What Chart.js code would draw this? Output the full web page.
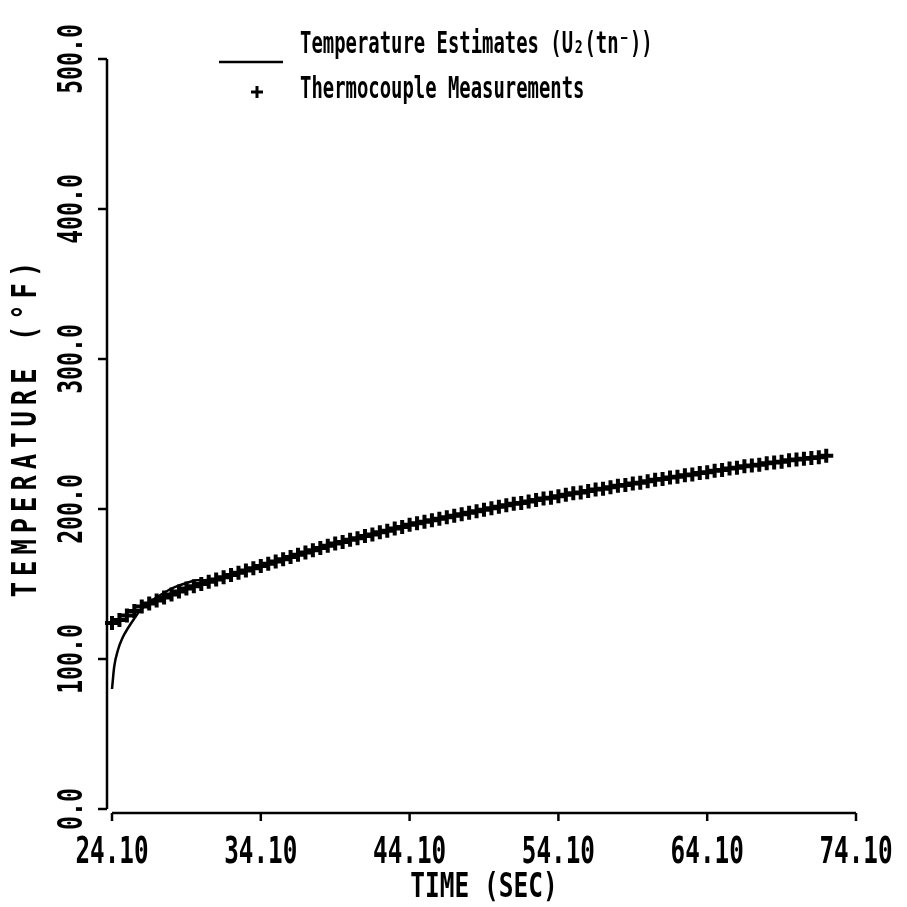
<!DOCTYPE html>
<html>
<head>
<meta charset="utf-8">
<script src="https://cdn.jsdelivr.net/npm/chart.js@4/dist/chart.umd.min.js"></script>
<style>html,body{margin:0;padding:0;background:#fff;}canvas{display:block;}</style>
</head>
<body>
<canvas id="c" width="907" height="907"></canvas>
<script>
// ---- data ----
const xTicks = [24.10, 34.10, 44.10, 54.10, 64.10, 74.10];
const xTickLabels = ["24.10", "34.10", "44.10", "54.10", "64.10", "74.10"];
const yTicks = [0, 100, 200, 300, 400, 500];
const yTickLabels = ["0.0", "100.0", "200.0", "300.0", "400.0", "500.0"];

const estimateTimes = [24.1, 24.25, 24.5, 24.8, 25.2, 25.6, 26.0, 26.5, 27.0, 27.5, 28.0, 28.6, 29.2, 29.8, 30.3, 30.8, 31.5, 32.5, 34.1, 36.1, 38.1, 40.1, 42.1, 44.1, 46.1, 48.1, 50.1, 52.1, 54.1, 56.1, 58.1, 60.1, 62.1, 64.1, 66.1, 68.1, 70.1, 72.1];
const estimateTemps = [80, 95, 106, 114, 121, 127, 132.5, 137, 140.5, 143.5, 146.5, 149, 151, 152.5, 152.5, 153, 154.5, 157.5, 162, 168, 174, 179.5, 184.5, 189.5, 193.5, 197.5, 201.5, 205, 208.5, 212, 215.5, 218.5, 221.5, 224.5, 227.5, 230.5, 233, 235.5];

const measTimes = [24.1, 24.6, 25.1, 25.6, 26.1, 26.6, 27.1, 27.6, 28.1, 28.6, 29.1, 29.6, 30.1, 30.6, 31.1, 31.6, 32.1, 32.6, 33.1, 33.6, 34.1, 34.6, 35.1, 35.6, 36.1, 36.6, 37.1, 37.6, 38.1, 38.6, 39.1, 39.6, 40.1, 40.6, 41.1, 41.6, 42.1, 42.6, 43.1, 43.6, 44.1, 44.6, 45.1, 45.6, 46.1, 46.6, 47.1, 47.6, 48.1, 48.6, 49.1, 49.6, 50.1, 50.6, 51.1, 51.6, 52.1, 52.6, 53.1, 53.6, 54.1, 54.6, 55.1, 55.6, 56.1, 56.6, 57.1, 57.6, 58.1, 58.6, 59.1, 59.6, 60.1, 60.6, 61.1, 61.6, 62.1, 62.6, 63.1, 63.6, 64.1, 64.6, 65.1, 65.6, 66.1, 66.6, 67.1, 67.6, 68.1, 68.6, 69.1, 69.6, 70.1, 70.6, 71.1, 71.6, 72.1];
const measTemps = [124, 126, 129, 132, 135, 137, 139, 141, 143, 145, 147, 148.5, 150, 151.5, 153, 154.5, 156, 157.5, 159, 160.5, 162, 163.5, 165, 166.5, 168, 169.5, 171, 172.5, 174, 175.5, 177, 178, 179.5, 180.5, 182, 183, 184.5, 185.5, 187, 188, 189.5, 190.5, 191.5, 192.5, 193.5, 194.5, 195.5, 196.5, 197.5, 198.5, 199.5, 200.5, 201.5, 202.5, 203.5, 204, 205, 206, 207, 207.5, 208.5, 209.5, 210.5, 211, 212, 213, 213.5, 214.5, 215.5, 216, 217, 217.5, 218.5, 219.5, 220, 221, 221.5, 222.5, 223, 224, 224.5, 225.5, 226, 227, 227.5, 228.5, 229, 229.5, 230.5, 231, 231.5, 232.5, 233, 233.5, 234, 234.5, 235.5];

const legendLabels = ["Temperature Estimates (U\u2082(tn\u207B))", "Thermocouple Measurements"];
const xTitle = "TIME (SEC)";
const yTitle = "TEMPERATURE (\u00B0F)";

// ---- helpers ----
const FONT = '"DejaVu Sans Mono", "Liberation Mono", monospace';
function cText(ctx, text, x, y, size, sx, align, rot, spacing) {
  ctx.save();
  ctx.translate(x, y);
  if (rot) ctx.rotate(rot);
  ctx.scale(sx, 1);
  ctx.font = 'bold ' + size + 'px ' + FONT;
  if (spacing) ctx.letterSpacing = spacing + 'px';
  ctx.textAlign = align;
  ctx.textBaseline = 'middle';
  ctx.fillStyle = '#000';
  ctx.fillText(text, 0, 0);
  ctx.restore();
}

const decor = {
  id: 'decor',
  afterDraw(chart) {
    const ctx = chart.ctx;
    const xs = chart.scales.x, ys = chart.scales.y;
    const x0 = xs.getPixelForValue(xTicks[0]);
    const x1 = xs.getPixelForValue(xTicks[xTicks.length - 1]);
    const yb = ys.getPixelForValue(yTicks[0]);
    const yt = ys.getPixelForValue(yTicks[yTicks.length - 1]);
    const axX = x0 - 5, axY = yb + 4;
    ctx.save();
    ctx.strokeStyle = '#000';
    ctx.lineWidth = 2.5;
    ctx.lineCap = 'butt';
    // y axis
    ctx.beginPath();
    ctx.moveTo(axX, yt); ctx.lineTo(axX, yb);
    ctx.stroke();
    yTicks.forEach(v => {
      const p = ys.getPixelForValue(v);
      ctx.beginPath(); ctx.moveTo(axX - 9, p); ctx.lineTo(axX, p); ctx.stroke();
    });
    // x axis
    ctx.beginPath();
    ctx.moveTo(x0, axY); ctx.lineTo(x1, axY);
    ctx.stroke();
    xTicks.forEach(v => {
      const p = xs.getPixelForValue(v);
      ctx.beginPath(); ctx.moveTo(p, axY); ctx.lineTo(p, axY + 8); ctx.stroke();
    });
    ctx.restore();

    // tick labels
    xTicks.forEach((v, i) => {
      cText(ctx, xTickLabels[i], xs.getPixelForValue(v), axY + 40, 38, 0.64, 'center', 0);
    });
    yTicks.forEach((v, i) => {
      cText(ctx, yTickLabels[i], axX - 34, ys.getPixelForValue(v), 34, 0.68, 'center', -Math.PI / 2);
    });
    // axis titles
    cText(ctx, xTitle, (x0 + x1) / 2, axY + 75, 34, 0.72, 'center', 0);
    cText(ctx, yTitle, axX - 80, ys.getPixelForValue(255), 34, 0.75, 'center', -Math.PI / 2, 8);

    // legend
    ctx.save();
    ctx.strokeStyle = '#000';
    ctx.lineWidth = 2.5;
    ctx.beginPath(); ctx.moveTo(219, 62); ctx.lineTo(283, 62); ctx.stroke();
    ctx.lineWidth = 3;
    ctx.beginPath();
    ctx.moveTo(251, 92); ctx.lineTo(263, 92);
    ctx.moveTo(257, 86); ctx.lineTo(257, 98);
    ctx.stroke();
    ctx.restore();
    cText(ctx, legendLabels[0], 300, 45, 30, 0.63, 'left', 0);
    cText(ctx, legendLabels[1], 300, 90, 30, 0.63, 'left', 0);
  }
};

const estData = estimateTimes.map((t, i) => ({ x: t, y: estimateTemps[i] }));
const measData = measTimes.map((t, i) => ({ x: t, y: measTemps[i] }));

new Chart(document.getElementById('c'), {
  type: 'scatter',
  data: {
    datasets: [
      {
        label: legendLabels[0],
        data: estData,
        showLine: true,
        borderColor: '#000',
        borderWidth: 2.5,
        pointRadius: 0,
        cubicInterpolationMode: 'monotone',
        clip: false
      },
      {
        label: legendLabels[1],
        data: measData,
        showLine: false,
        pointStyle: 'cross',
        pointRadius: 7,
        borderColor: '#000',
        backgroundColor: '#000',
        pointBorderWidth: 4,
        borderWidth: 4,
        clip: false
      }
    ]
  },
  options: {
    responsive: false,
    animation: false,
    devicePixelRatio: 1,
    layout: { padding: { left: 112, right: 51, top: 59, bottom: 98 } },
    plugins: { legend: { display: false }, tooltip: { enabled: false } },
    scales: {
      x: { type: 'linear', min: 24.1, max: 74.1, display: false },
      y: { type: 'linear', min: 0, max: 500, display: false }
    }
  },
  plugins: [decor]
});
</script>
</body>
</html>
